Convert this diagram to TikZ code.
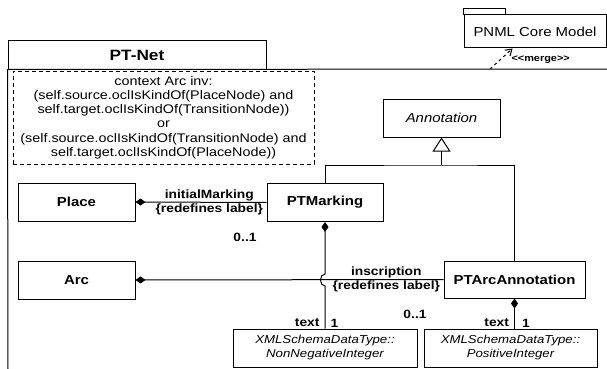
\documentclass[tikz,border=0pt]{standalone}
\usepackage{fontspec}
\setmainfont{Liberation Sans}[FakeStretch=1.15]
\usetikzlibrary{arrows.meta}

\tikzset{
  cls/.style={draw, font=\fontsize{13}{15}\selectfont\bfseries, minimum width=117pt, minimum height=38pt, inner sep=2pt},
  dtype/.style={draw, font=\fontsize{11.5}{14}\selectfont\itshape, align=center, minimum height=38pt, inner sep=2pt},
  role/.style={font=\fontsize{12}{14}\selectfont\bfseries, align=center, inner sep=3pt},
  mult/.style={font=\fontsize{12}{14}\selectfont\bfseries, inner sep=1pt},
  comp/.style={{Diamond[length=10pt,width=7pt]}-},
}

\begin{document}
\begin{tikzpicture}[x=1pt, y=-1pt, line width=1pt]
  \useasboundingbox (0,0) rectangle (607,369);

  % packages
  \node[draw, minimum width=258pt, minimum height=28pt, font=\fontsize{15}{18}\selectfont\bfseries] (nettab) at (137,55) {PT-Net};
  \coordinate (netright) at (607,69);
  \coordinate (netbottom) at (8,369);
  \draw (netbottom) -- (nettab.south west) -- (netright);

  \node[draw, minimum width=142pt, minimum height=33pt, font=\fontsize{13}{15}\selectfont] (pnml) at (535,31.5) {PNML Core Model};
  \draw (pnml.north west) rectangle ++(42,-6);

  \coordinate (mergefrom) at (490,69);
  \draw[dash pattern=on 3pt off 3pt, -{Straight Barb[length=6pt,width=8pt]}] (mergefrom) -- ([xshift=49pt]pnml.south west);
  \node[font=\fontsize{9.5}{11}\selectfont\bfseries, anchor=west, inner sep=1pt] (mergelbl) at (510,60) {<{}<merge>{}>};

  % OCL constraint
  \node[draw, line width=0.9pt, dash pattern=on 4pt off 3pt, minimum width=301pt, minimum height=93pt, align=center, font=\fontsize{12.5}{14.2}\selectfont] (ocl) at (163.5,117.5)
    {context Arc inv:\\(self.source.oclIsKindOf(PlaceNode) and\\self.target.oclIsKindOf(TransitionNode))\\or\\(self.source.oclIsKindOf(TransitionNode) and\\self.target.oclIsKindOf(PlaceNode))};

  % classes
  \node[cls, font=\fontsize{13}{15}\selectfont\itshape] (annotation) at (441.5,118) {Annotation};
  \node[cls] (place) at (76.5,202) {Place};
  \node[cls, minimum width=116pt] (ptmarking) at (325,202.5) {PTMarking};
  \node[cls] (arc) at (76.5,280) {Arc};
  \node[cls, minimum width=141pt, minimum height=37pt] (ptarc) at (514.5,279.5) {PTArcAnnotation};
  \node[dtype, minimum width=184pt] (nonneg) at (325,348) {XMLSchemaDataType::\\NonNegativeInteger};
  \node[dtype, minimum width=173pt] (posint) at (510.5,348) {XMLSchemaDataType::\\PositiveInteger};

  % generalization
  \coordinate (gen) at (441.5,165);
  \draw (ptmarking.north) |- (gen) -| (ptarc.north);
  \draw[-{Triangle[open, length=14pt, width=18pt]}] (gen) -- (annotation.south);

  % compositions
  \draw[comp] (place.east) -- (ptmarking.west)
    node[role, pos=1, anchor=east] (initmark) {initialMarking\\\{redefines label\}};
  \node[mult] (initmult) at (245,237) {0..1};

  \draw[comp] (arc.east) -- (ptarc.west)
    node[role, pos=1, anchor=east] (inscr) {inscription\\\{redefines label\}};
  \node[mult] (inscrmult) at (415,314) {0..1};

  \draw[comp] (ptmarking.south) -- (325,274) .. controls (319,274) and (319,286) .. (325,286) -- (nonneg.north)
    node[mult, pos=1, anchor=south east, xshift=-4pt] (nntext) {text}
    node[mult, pos=1, anchor=south west, xshift=4pt] (nnone) {1};

  \draw[comp] (ptarc.south) -- (ptarc.south |- posint.north)
    node[mult, pos=1, anchor=south east, xshift=-4pt] (pitext) {text}
    node[mult, pos=1, anchor=south west, xshift=6pt] (pione) {1};
\end{tikzpicture}
\end{document}
